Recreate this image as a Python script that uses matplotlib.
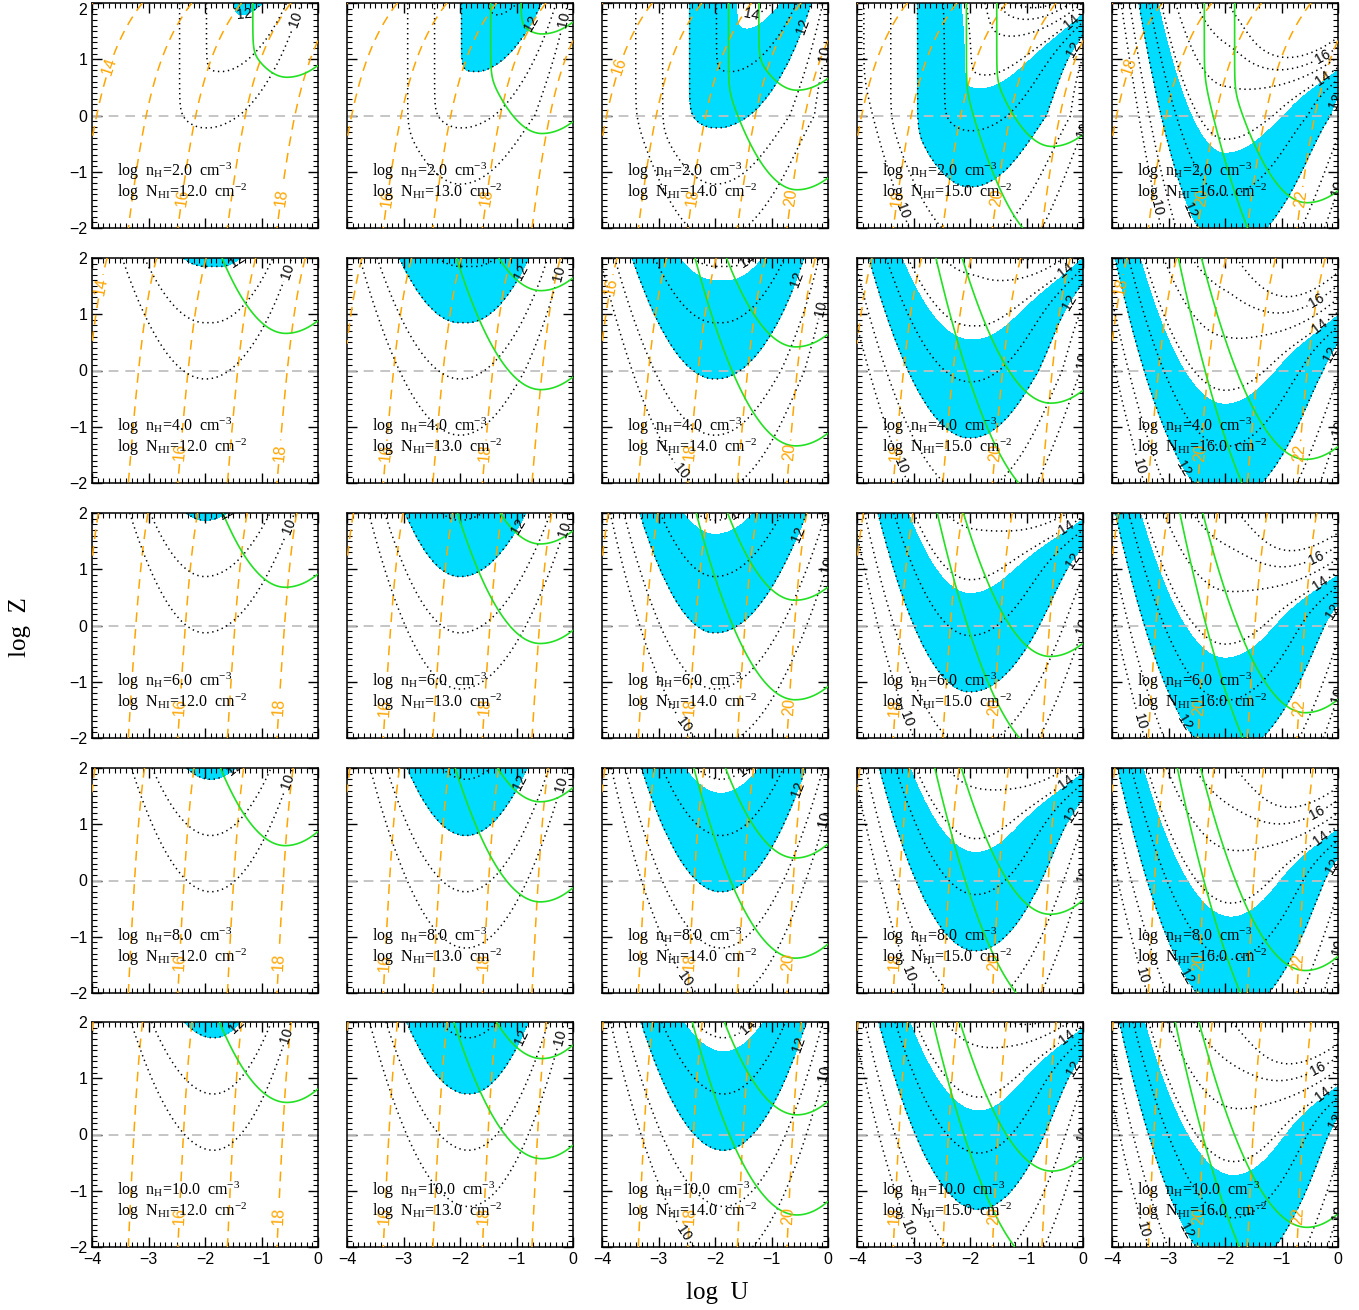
import numpy as np
import matplotlib.pyplot as plt
from matplotlib.ticker import MultipleLocator

plt.rcParams['font.family'] = ['Liberation Sans', 'DejaVu Sans']
plt.rcParams['mathtext.fontset'] = 'custom'
plt.rcParams['mathtext.rm'] = 'Liberation Serif'
plt.rcParams['mathtext.it'] = 'Liberation Serif:italic'
plt.rcParams['lines.scale_dashes'] = False

# panel grid: rows = density, columns = HI column density
log_nh = [2.0, 4.0, 6.0, 8.0, 10.0]
log_nhi = [12.0, 13.0, 14.0, 15.0, 16.0]

# black dotted field (metal column), values for log NHI = 12, one entry per row
a_peak = [10.22, 10.15, 10.13, 10.20, 10.28]
a_u0 = [-2.0, -2.0, -2.0, -1.9, -1.85]
a_u0_drift = [0.35, 0.15, 0.0, 0.0, 0.0]
a_bl = [1.1, 1.0, 1.2, 1.12, 1.07]
a_bl16 = [1.9, 1.15, 1.15, 1.1, 1.1]
a_br = [0.78, 0.95, 0.85, 1.05, 1.22]
a_br_step = [0.0, -0.03, -0.02, -0.04, -0.08]
a_br_z = [0.52, 0.2, 0.0, 0.0, 0.0]
a_wall = [1, 0, 0, 0, 0]
wall_u10, wall_slope = -2.45, 2.1
# extra growth at high Z / high U for thick columns
col_sat = [0.0, 0.0, 0.0, 4.0, 3.5]
row_sat = [1.5, 1.0, 1.0, 1.0, 1.0]
col_sat_z = [2.0, 2.0, 2.0, 1.45, 0.45]
col_sat_w = [0.25, 0.25, 0.25, 0.25, 0.2]
col_off = [0.0, 0.0, 0.0, 0.05, 0.2]
band = [12.0, 13.75]
dot_levels = np.arange(10.0, 18.0)

# orange dashed field (total H column)
b_u16 = [-2.48, -2.48, -2.48, -2.48, -2.48]
b_slope = 1.14
b_qa = [0.12, 0.08, 0.06, 0.05, 0.045]
b_qc = [0.089, 0.025, 0.015, 0.012, 0.010]
orange_levels = np.arange(10.0, 27.0)

# green curves
g_la = [0.68, 0.66, 0.68, 0.62, 0.57]
g_lb = [2.45, 2.42, 2.45, 2.40, 2.35]
g_uc = [-0.55, -0.57, -0.58, -0.58, -0.55]
g_kl = [1.2, 1.05, 1.08, 1.05, 1.0]
g_kr = [0.7, 0.7, 0.7, 0.75, 0.8]
g_wall = [1, 0, 0, 0, 0]
gwall_u, gwall_slope = -1.36, 3.3

# contour label spots (level, logU, logZ) per column
dot_labels = [
    [(12, -1.3, 1.8), (10, -0.5, 1.75)],
    [(12, -0.75, 1.65), (10, -0.15, 1.7)],
    [(14, -1.35, 1.85), (12, -0.5, 1.6), (10, -0.1, 1.1), (10, -2.55, -1.75)],
    [(14, -0.4, 1.9), (12, -0.3, 1.25), (10, -0.1, 0.2), (10, -3.35, -1.75)],
    [(16, -0.5, 1.45), (14, -0.45, 0.95), (12, -0.25, 0.35), (10, -0.15, -0.8),
     (10, -3.7, -1.75), (12, -2.75, -1.75)],
]
orange_labels = [
    [(16, -2.45, -1.45), (18, -0.72, -1.45)],
    [(16, -3.45, -1.45), (18, -1.62, -1.45)],
    [(18, -2.45, -1.45), (20, -0.72, -1.45)],
    [(18, -3.42, -1.45), (20, -1.62, -1.45)],
    [(20, -2.5, -1.45), (22, -0.85, -1.45)],
]
orange_top = {0: 14, 2: 16, 4: 18}
orange_top_pos = [(-3.75, 0.9), (-3.9, 1.5)]

CYAN = '#00dcff'
ORANGE = '#ffa500'
GREEN = '#22e022'

u = np.linspace(-4, 0, 301)
z = np.linspace(-2, 2, 301)
U, Z = np.meshgrid(u, z)


def smin(a, b, w=0.12):
    return -w * np.logaddexp(-a / w, -b / w)


def metal_field(r, c):
    dn = log_nhi[c] - 12
    zp = 0.3 * np.logaddexp(0, Z / 0.3)
    u_right = a_u0[r] + a_u0_drift[r] * zp
    left = np.minimum(U - a_u0[r], 0)
    right = np.maximum(U - u_right, 0)
    bl = a_bl16[r] if c == 4 else a_bl[r]
    br = (a_br[r] + a_br_step[r] * dn) * np.exp(a_br_z[r] * np.maximum(Z, 0))
    f = a_peak[r] + dn + col_off[c] + Z - bl * left ** 2 - br * right ** 2
    if a_wall[r] and c < 4:
        f = smin(f, 10 + dn + wall_slope * (U - wall_u10))
    w = col_sat_w[c]
    k = col_sat[c] * row_sat[r]
    f = f + k / (1 + np.exp(-(U + 1.2) / 0.3)) * w * np.logaddexp(0, (Z - col_sat_z[c]) / w)
    return f


def hcol_field(r, c):
    dn = log_nhi[c] - 12
    q = b_qa[r] * (Z + 2) + b_qc[r] * (np.exp(Z) - np.exp(-2))
    return 16 + dn + b_slope * (U - b_u16[r]) - b_slope * q


def green_field(r, c):
    dn = log_nhi[c] - 12
    du = U - g_uc[r]
    f = Z + dn - np.where(du < 0, g_kl[r], g_kr[r]) * du ** 2
    if g_wall[r]:
        f = smin(f, dn + gwall_slope * (U - gwall_u))
    return f


def fmt(v):
    return f'{v:.0f}'


def draw_levels(ax, field, levels, spots, color, ls, lw, size, z):
    """contour all levels; levels with label spots get their own set so clabel works"""
    labelled = sorted({lev for lev, _, _ in spots})
    plain = [l for l in levels if l not in labelled and field.min() < l < field.max()]
    if plain:
        ax.contour(U, Z, field, levels=plain, colors=color, linewidths=lw,
                   linestyles=[ls], zorder=z)
    for lev in labelled:
        if not (field.min() < lev < field.max()):
            continue
        cs = ax.contour(U, Z, field, levels=[float(lev)], colors=color, linewidths=lw,
                        linestyles=[ls], zorder=z)
        pts = [(uu, zz) for l, uu, zz in spots if l == lev]
        try:
            ax.clabel(cs, manual=pts, inline=True, inline_spacing=3,
                      fontsize=size, fmt=fmt, colors=color)
        except Exception:
            pass


W, H = 1359, 1310
lefts = [92, 347, 602, 857, 1112]
tops = [3, 258, 513, 768, 1022]
pw, ph = 226, 225

fig = plt.figure(figsize=(W / 100, H / 100), dpi=100)

for r in range(5):
    for c in range(5):
        ax = fig.add_axes([lefts[c] / W, 1 - (tops[r] + ph) / H, pw / W, ph / H])
        ax.set_xlim(-4, 0)
        ax.set_ylim(-2, 2)
        fa = metal_field(r, c)
        fb = hcol_field(r, c)
        fc = green_field(r, c)

        ax.contourf(U, Z, fa, levels=band, colors=[CYAN], zorder=1)
        ax.axhline(0, color='#c0c0c0', lw=1.3, ls=(0, (7, 5)), zorder=2)

        ospots = list(orange_labels[c])
        if r < 2 and c in orange_top:
            ospots.append((orange_top[c],) + orange_top_pos[r])
        draw_levels(ax, fb, orange_levels, ospots, ORANGE, (0, (7, 5)), 1.1, 11.5, 3)

        dspots = [s for s in dot_labels[c] if not (r == 0 and c == 2 and s[2] < -1)]
        draw_levels(ax, fa, dot_levels, dspots, 'k', (0, (1, 2.6)), 1.1, 10, 3)

        ax.contour(U, Z, fc, levels=[g_la[r], g_lb[r]], colors=GREEN,
                   linewidths=1.2, zorder=4)

        ax.text(-3.55, -1.0, f'log  n$_\\mathrm{{H}}$={log_nh[r]:.1f}  cm$^{{-3}}$',
                family='Liberation Serif', fontsize=11.5, va='center', zorder=5)
        ax.text(-3.55, -1.37, f'log  N$_\\mathrm{{HI}}$={log_nhi[c]:.1f}  cm$^{{-2}}$',
                family='Liberation Serif', fontsize=11.5, va='center', zorder=5)

        ax.set_xticks([-4, -3, -2, -1, 0])
        ax.set_yticks([-2, -1, 0, 1, 2])
        ax.xaxis.set_minor_locator(MultipleLocator(0.1))
        ax.yaxis.set_minor_locator(MultipleLocator(0.1))
        ax.tick_params(which='both', direction='in', top=True, right=True,
                       labelleft=(c == 0), labelbottom=(r == 4), labelsize=11.5)
        ax.tick_params(which='major', length=7, width=1)
        ax.tick_params(which='minor', length=3.5, width=0.8)
        if r == 0 and c == 0:
            ax.yaxis.get_major_ticks()[-1].label1.set_verticalalignment('top')
        for s in ax.spines.values():
            s.set_linewidth(1.1)

fig.text(20 / W, 1 - 627 / H, 'log  Z', rotation=90, family='Liberation Serif',
         fontsize=18, ha='center', va='center')
fig.text(717 / W, 1 - 1293 / H, 'log  U', family='Liberation Serif',
         fontsize=18, ha='center', va='center')

fig.savefig('out.png', dpi=100)
